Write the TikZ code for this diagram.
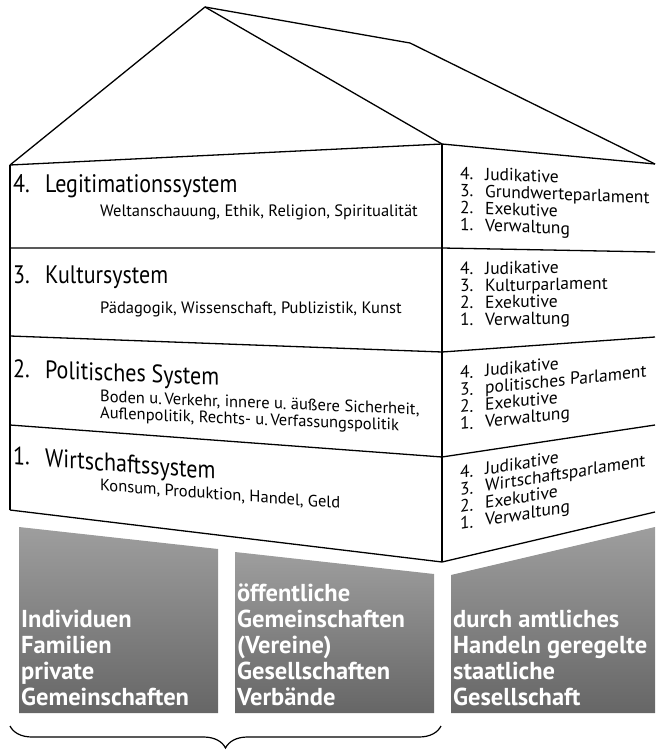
\documentclass[tikz,border=0pt]{standalone}
\usepackage{fontspec}
\setmainfont{PT Sans}
\usetikzlibrary{decorations.pathreplacing}
\definecolor{boxtop}{HTML}{9E9E9E}
\definecolor{boxbot}{HTML}{666666}
\newcommand\orgnum[1]{\makebox[25pt][l]{#1}}
\tikzset{
  wall/.style={line width=1.3pt, line join=round},
  systitle/.style={anchor=base west, inner sep=0pt, transform shape, yscale=1.15, font=\fontsize{22}{24}\selectfont},
  sysfields/.style={anchor=base west, inner sep=0pt, transform shape, align=left, font=\fontsize{16.5}{16.5}\selectfont},
  organs/.style={anchor=base west, inner sep=0pt, transform shape, align=left, font=\fontsize{17.5}{17}\selectfont},
  societybox/.style={top color=boxtop, bottom color=boxbot, draw=none},
  societytext/.style={anchor=base west, inner sep=0pt, align=left, text=white, font=\bfseries\fontsize{24.5}{26}\selectfont},
}
\begin{document}
\begin{tikzpicture}[x=1pt, y=-1pt]
    \useasboundingbox (0,0) rectangle (656,751);

    % roof
    \coordinate (apex) at (205,7);
    \coordinate (ridge) at (410,43);
    \draw[wall] (10,165) coordinate (L0) -- (apex) -- (442,144) coordinate (M0);
    \draw[wall] (apex) -- (ridge) -- (655,164) coordinate (R0);

    % floors, front wall and side wall
    \foreach \i/\yl/\ym/\yr in {1/248/248/252, 2/336/352/337, 3/425/457/425, 4/510/562/512}
    {
        \coordinate (L\i) at (10,\yl);
        \coordinate (M\i) at (442,\ym);
        \coordinate (R\i) at (655,\yr);
    }
    \foreach \i in {0,...,4}
        \draw[wall] (L\i) -- (M\i) -- (R\i);
    \draw[wall] (L0) -- (L4);
    \draw[wall] (M0) -- (M4);

    % subsystems (last line of the fields on its baseline)
    \foreach \n/\t/\yb/\s/\dy/\f in {
        4/Legitimationssystem/193/0/24/{Weltanschauung, Ethik, Religion, Spiritualität},
        3/Kultursystem/283/0/30/{Pädagogik, Wissenschaft, Publizistik, Kunst},
        2/Politisches System/377/-0.04/38/{Boden u.\,Verkehr, innere u.\ äußere Sicherheit,\\Auflenpolitik, Rechts- u.\,Verfassungspolitik},
        1/Wirtschaftssystem/464/-0.075/20/{Konsum, Produktion, Handel, Geld}}
    {
        \begin{scope}[shift={(13,\yb)}, yslant=\s]
            \node[systitle] (sys\n) at (0,0) {\makebox[32pt][l]{\n.}\t};
            \node[sysfields] (fields\n) at (87,\dy) {\f};
        \end{scope}
    }

    % organs
    \foreach \n/\p/\yb/\s in {4/Grundwerteparlament/230/-0.04, 3/Kulturparlament/326/0.02,
        2/politisches Parlament/430/0.1, 1/Wirtschaftsparlament/530/0.16}
    {
        \begin{scope}[shift={(460,\yb)}, yslant=\s]
            \node[organs] (organs\n) at (0,0) {\orgnum{4.}Judikative\\\orgnum{3.}\p\\\orgnum{2.}Exekutive\\\orgnum{1.}Verwaltung};
        \end{scope}
    }

    % society
    \shade[societybox] (19,527) -- (218,549) -- (218,713) -- (19,713) -- cycle;
    \shade[societybox] (235,552) -- (434,574) -- (434,713) -- (235,713) -- cycle;
    \shade[societybox] (451,575) -- (655,527) -- (655,713) -- (451,713) -- cycle;
    \node[societytext] (soc1) at (21,705) {Individuen\\Familien\\private\\Gemeinschaften};
    \node[societytext] (soc2) at (237,705) {öffentliche\\Gemeinschaften\\(Vereine)\\Gesellschaften\\Verbände};
    \node[societytext] (soc3) at (453,705) {durch amtliches\\Handeln geregelte\\staatliche\\Gesellschaft};

    \coordinate (braceL) at (10,726);
    \coordinate (braceR) at (441,726);
    \draw[decorate, decoration={brace, mirror, amplitude=22pt}, line width=1.2pt] (braceL) -- (braceR);

\end{tikzpicture}
\end{document}
